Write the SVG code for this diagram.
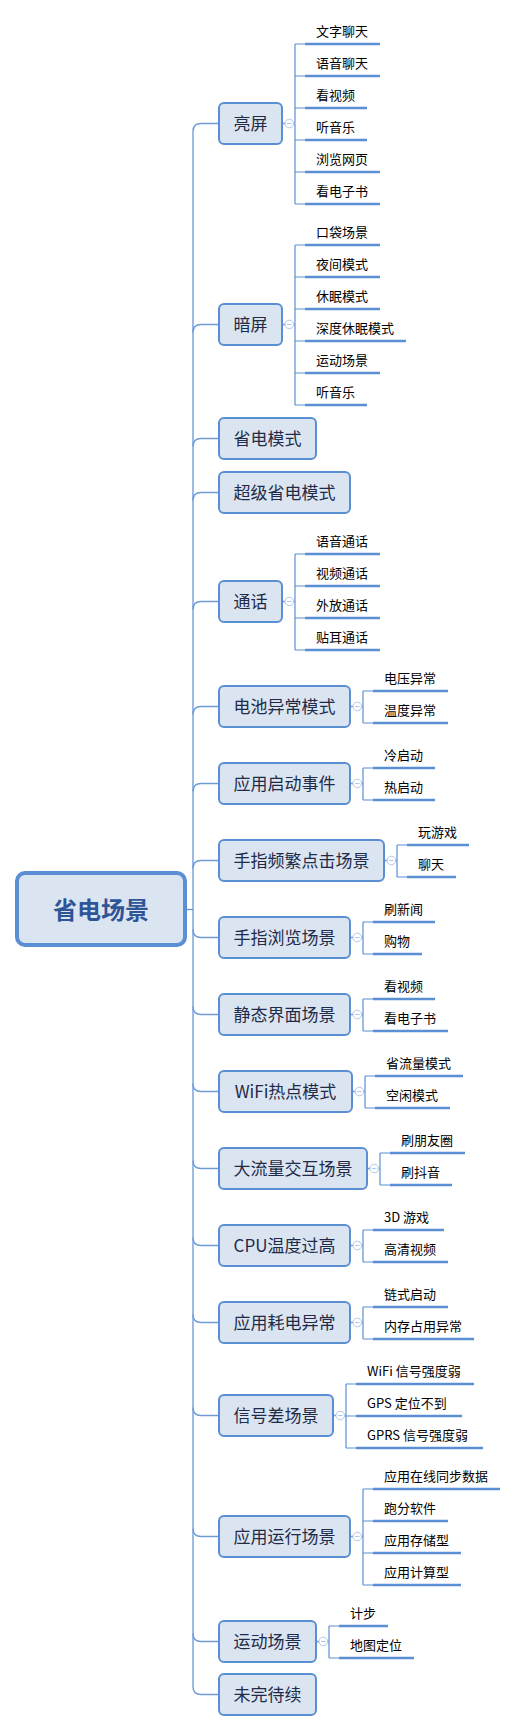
<svg xmlns="http://www.w3.org/2000/svg" width="518" height="1733" viewBox="0 0 518 1733">
<style>
text{font-family:"Noto Sans CJK SC","Microsoft YaHei",sans-serif}
.node rect{fill:#dbe5f1;stroke:#5b8fd4;stroke-width:2}
.node text{font-size:17px;fill:#1f2b48;text-anchor:middle}
.root rect{fill:#dbe5f1;stroke:#5b8fd4;stroke-width:4}
.root text{font-size:24px;font-weight:bold;fill:#2f5597;text-anchor:middle}
.leaf text{font-size:13px;fill:#000}
.leaf line{stroke:#5b8fd4;stroke-width:2.4}
.conn path,.conn line{fill:none;stroke:#5b8fd4;stroke-width:1.2}
.conn .br{stroke:#6f9bd8;stroke-width:1.5}
.tg circle{fill:#fff;stroke:#b3c7ea;stroke-width:1}
.tg line{stroke:#b3c7ea;stroke-width:1}
</style>
<g class="conn" id="connectors">
<path d="M186,909.5H193"/>
<path d="M193,131.5V1686.5"/>
<path class="br" d="M193,131.5Q193,123.5 201,123.5H219"/>
<path class="br" d="M193,332.5Q193,324.5 201,324.5H219"/>
<path class="br" d="M193,446.5Q193,438.5 201,438.5H219"/>
<path class="br" d="M193,500.5Q193,492.5 201,492.5H219"/>
<path class="br" d="M193,609.5Q193,601.5 201,601.5H219"/>
<path class="br" d="M193,714.5Q193,706.5 201,706.5H219"/>
<path class="br" d="M193,791.5Q193,783.5 201,783.5H219"/>
<path class="br" d="M193,868.5Q193,860.5 201,860.5H219"/>
<path class="br" d="M193,929.5Q193,937.5 201,937.5H219"/>
<path class="br" d="M193,1006.5Q193,1014.5 201,1014.5H219"/>
<path class="br" d="M193,1083.5Q193,1091.5 201,1091.5H219"/>
<path class="br" d="M193,1160.5Q193,1168.5 201,1168.5H219"/>
<path class="br" d="M193,1237.5Q193,1245.5 201,1245.5H219"/>
<path class="br" d="M193,1314.5Q193,1322.5 201,1322.5H219"/>
<path class="br" d="M193,1407.5Q193,1415.5 201,1415.5H219"/>
<path class="br" d="M193,1528.5Q193,1536.5 201,1536.5H219"/>
<path class="br" d="M193,1633.5Q193,1641.5 201,1641.5H219"/>
<path class="br" d="M193,1686.5Q193,1694.5 201,1694.5H219"/>
<!-- child connectors -->
<path d="M295,123.5V44M295,124V204M295,44H305M295,76H305M295,108H305M295,140H305M295,172H305M295,204H305"/>
<path d="M295,245V405M295,245H305M295,277H305M295,309H305M295,341H305M295,373H305M295,405H305"/>
<path d="M295,554V650M295,554H305M295,586H305M295,618H305M295,650H305"/>
<path d="M363,691V723M363,691H373M363,723H373"/>
<path d="M363,768V800M363,768H373M363,800H373"/>
<path d="M397,845V877M397,845H407M397,877H407"/>
<path d="M363,922V954M363,922H373M363,954H373"/>
<path d="M363,999V1031M363,999H373M363,1031H373"/>
<path d="M365,1076V1108M365,1076H375M365,1108H375"/>
<path d="M380,1153V1185M380,1153H390M380,1185H390"/>
<path d="M363,1230V1262M363,1230H373M363,1262H373"/>
<path d="M363,1307V1339M363,1307H373M363,1339H373"/>
<path d="M346,1384V1448M346,1384H356M346,1416H356M346,1448H356"/>
<path d="M363,1489V1585M363,1489H373M363,1521H373M363,1553H373M363,1585H373"/>
<path d="M329,1626V1658M329,1626H339M329,1658H339"/>
<!-- stubs node -> toggle -> vertical -->
<path class="br" d="M282,123.5H285M293.5,123.5H295"/>
<path class="br" d="M282,324.5H285M293.5,324.5H295"/>
<path class="br" d="M282,601.5H285M293.5,601.5H295"/>
<path class="br" d="M350,706.5H353M361.5,706.5H363"/>
<path class="br" d="M350,783.5H353M361.5,783.5H363"/>
<path class="br" d="M384,860.5H387M395.5,860.5H397"/>
<path class="br" d="M350,937.5H353M361.5,937.5H363"/>
<path class="br" d="M350,1014.5H353M361.5,1014.5H363"/>
<path class="br" d="M352,1091.5H355M363.5,1091.5H365"/>
<path class="br" d="M367,1168.5H370M378.5,1168.5H380"/>
<path class="br" d="M350,1245.5H353M361.5,1245.5H363"/>
<path class="br" d="M350,1322.5H353M361.5,1322.5H363"/>
<path class="br" d="M333,1415.5H336M344.5,1415.5H346"/>
<path class="br" d="M350,1536.5H353M361.5,1536.5H363"/>
<path class="br" d="M316,1641.5H319M327.5,1641.5H329"/>
</g>
<g class="tg" id="toggles">
<circle cx="289.3" cy="123.5" r="4.3"/><line x1="287" y1="123.5" x2="291.6" y2="123.5"/>
<circle cx="289.3" cy="324.5" r="4.3"/><line x1="287" y1="324.5" x2="291.6" y2="324.5"/>
<circle cx="289.3" cy="601.5" r="4.3"/><line x1="287" y1="601.5" x2="291.6" y2="601.5"/>
<circle cx="357.3" cy="706.5" r="4.3"/><line x1="355" y1="706.5" x2="359.6" y2="706.5"/>
<circle cx="357.3" cy="783.5" r="4.3"/><line x1="355" y1="783.5" x2="359.6" y2="783.5"/>
<circle cx="391.3" cy="860.5" r="4.3"/><line x1="389" y1="860.5" x2="393.6" y2="860.5"/>
<circle cx="357.3" cy="937.5" r="4.3"/><line x1="355" y1="937.5" x2="359.6" y2="937.5"/>
<circle cx="357.3" cy="1014.5" r="4.3"/><line x1="355" y1="1014.5" x2="359.6" y2="1014.5"/>
<circle cx="359.3" cy="1091.5" r="4.3"/><line x1="357" y1="1091.5" x2="361.6" y2="1091.5"/>
<circle cx="374.3" cy="1168.5" r="4.3"/><line x1="372" y1="1168.5" x2="376.6" y2="1168.5"/>
<circle cx="357.3" cy="1245.5" r="4.3"/><line x1="355" y1="1245.5" x2="359.6" y2="1245.5"/>
<circle cx="357.3" cy="1322.5" r="4.3"/><line x1="355" y1="1322.5" x2="359.6" y2="1322.5"/>
<circle cx="340.3" cy="1415.5" r="4.3"/><line x1="338" y1="1415.5" x2="342.6" y2="1415.5"/>
<circle cx="357.3" cy="1536.5" r="4.3"/><line x1="355" y1="1536.5" x2="359.6" y2="1536.5"/>
<circle cx="323.3" cy="1641.5" r="4.3"/><line x1="321" y1="1641.5" x2="325.6" y2="1641.5"/>
</g>
<g class="root" id="root"><rect x="17" y="873" width="168" height="72" rx="8"/><text x="101" y="918.5">省电场景</text></g>
<g class="node" id="n1"><rect x="219" y="103" width="63" height="41" rx="5"/><text x="250.5" y="129.5">亮屏</text></g>
<g class="node" id="n2"><rect x="219" y="304" width="63" height="41" rx="5"/><text x="250.5" y="330.5">暗屏</text></g>
<g class="node" id="n3"><rect x="219" y="418" width="97" height="41" rx="5"/><text x="267.5" y="444.5">省电模式</text></g>
<g class="node" id="n4"><rect x="219" y="472" width="131" height="41" rx="5"/><text x="284.5" y="498.5">超级省电模式</text></g>
<g class="node" id="n5"><rect x="219" y="581" width="63" height="41" rx="5"/><text x="250.5" y="607.5">通话</text></g>
<g class="node" id="n6"><rect x="219" y="686" width="131" height="41" rx="5"/><text x="284.5" y="712.5">电池异常模式</text></g>
<g class="node" id="n7"><rect x="219" y="763" width="131" height="41" rx="5"/><text x="284.5" y="789.5">应用启动事件</text></g>
<g class="node" id="n8"><rect x="219" y="840" width="165" height="41" rx="5"/><text x="301.5" y="866.5">手指频繁点击场景</text></g>
<g class="node" id="n9"><rect x="219" y="917" width="131" height="41" rx="5"/><text x="284.5" y="943.5">手指浏览场景</text></g>
<g class="node" id="n10"><rect x="219" y="994" width="131" height="41" rx="5"/><text x="284.5" y="1020.5">静态界面场景</text></g>
<g class="node" id="n11"><rect x="219" y="1071" width="133" height="41" rx="5"/><text x="285.5" y="1097.5">WiFi热点模式</text></g>
<g class="node" id="n12"><rect x="219" y="1148" width="148" height="41" rx="5"/><text x="293" y="1174.5">大流量交互场景</text></g>
<g class="node" id="n13"><rect x="219" y="1225" width="131" height="41" rx="5"/><text x="284.5" y="1251.5">CPU温度过高</text></g>
<g class="node" id="n14"><rect x="219" y="1302" width="131" height="41" rx="5"/><text x="284.5" y="1328.5">应用耗电异常</text></g>
<g class="node" id="n15"><rect x="219" y="1395" width="114" height="41" rx="5"/><text x="276" y="1421.5">信号差场景</text></g>
<g class="node" id="n16"><rect x="219" y="1516" width="131" height="41" rx="5"/><text x="284.5" y="1542.5">应用运行场景</text></g>
<g class="node" id="n17"><rect x="219" y="1621" width="97" height="41" rx="5"/><text x="267.5" y="1647.5">运动场景</text></g>
<g class="node" id="n18"><rect x="219" y="1674" width="97" height="41" rx="5"/><text x="267.5" y="1700.5">未完待续</text></g>
<!-- leaves -->
<g class="leaf" id="l1a"><text x="316" y="36">文字聊天</text><line x1="305" y1="44" x2="380" y2="44"/></g>
<g class="leaf" id="l1b"><text x="316" y="68">语音聊天</text><line x1="305" y1="76" x2="380" y2="76"/></g>
<g class="leaf" id="l1c"><text x="316" y="100">看视频</text><line x1="305" y1="108" x2="367" y2="108"/></g>
<g class="leaf" id="l1d"><text x="316" y="132">听音乐</text><line x1="305" y1="140" x2="367" y2="140"/></g>
<g class="leaf" id="l1e"><text x="316" y="164">浏览网页</text><line x1="305" y1="172" x2="380" y2="172"/></g>
<g class="leaf" id="l1f"><text x="316" y="196">看电子书</text><line x1="305" y1="204" x2="380" y2="204"/></g>
<g class="leaf" id="l2a"><text x="316" y="237">口袋场景</text><line x1="305" y1="245" x2="380" y2="245"/></g>
<g class="leaf" id="l2b"><text x="316" y="269">夜间模式</text><line x1="305" y1="277" x2="380" y2="277"/></g>
<g class="leaf" id="l2c"><text x="316" y="301">休眠模式</text><line x1="305" y1="309" x2="380" y2="309"/></g>
<g class="leaf" id="l2d"><text x="316" y="333">深度休眠模式</text><line x1="305" y1="341" x2="406" y2="341"/></g>
<g class="leaf" id="l2e"><text x="316" y="365">运动场景</text><line x1="305" y1="373" x2="380" y2="373"/></g>
<g class="leaf" id="l2f"><text x="316" y="397">听音乐</text><line x1="305" y1="405" x2="367" y2="405"/></g>
<g class="leaf" id="l5a"><text x="316" y="546">语音通话</text><line x1="305" y1="554" x2="380" y2="554"/></g>
<g class="leaf" id="l5b"><text x="316" y="578">视频通话</text><line x1="305" y1="586" x2="380" y2="586"/></g>
<g class="leaf" id="l5c"><text x="316" y="610">外放通话</text><line x1="305" y1="618" x2="380" y2="618"/></g>
<g class="leaf" id="l5d"><text x="316" y="642">贴耳通话</text><line x1="305" y1="650" x2="380" y2="650"/></g>
<g class="leaf" id="l6a"><text x="384" y="683">电压异常</text><line x1="373" y1="691" x2="448" y2="691"/></g>
<g class="leaf" id="l6b"><text x="384" y="715">温度异常</text><line x1="373" y1="723" x2="448" y2="723"/></g>
<g class="leaf" id="l7a"><text x="384" y="760">冷启动</text><line x1="373" y1="768" x2="435" y2="768"/></g>
<g class="leaf" id="l7b"><text x="384" y="792">热启动</text><line x1="373" y1="800" x2="435" y2="800"/></g>
<g class="leaf" id="l8a"><text x="418" y="837">玩游戏</text><line x1="407" y1="845" x2="469" y2="845"/></g>
<g class="leaf" id="l8b"><text x="418" y="869">聊天</text><line x1="407" y1="877" x2="456" y2="877"/></g>
<g class="leaf" id="l9a"><text x="384" y="914">刷新闻</text><line x1="373" y1="922" x2="435" y2="922"/></g>
<g class="leaf" id="l9b"><text x="384" y="946">购物</text><line x1="373" y1="954" x2="422" y2="954"/></g>
<g class="leaf" id="l10a"><text x="384" y="991">看视频</text><line x1="373" y1="999" x2="435" y2="999"/></g>
<g class="leaf" id="l10b"><text x="384" y="1023">看电子书</text><line x1="373" y1="1031" x2="448" y2="1031"/></g>
<g class="leaf" id="l11a"><text x="386" y="1068">省流量模式</text><line x1="375" y1="1076" x2="463" y2="1076"/></g>
<g class="leaf" id="l11b"><text x="386" y="1100">空闲模式</text><line x1="375" y1="1108" x2="450" y2="1108"/></g>
<g class="leaf" id="l12a"><text x="401" y="1145">刷朋友圈</text><line x1="390" y1="1153" x2="465" y2="1153"/></g>
<g class="leaf" id="l12b"><text x="401" y="1177">刷抖音</text><line x1="390" y1="1185" x2="452" y2="1185"/></g>
<g class="leaf" id="l13a"><text x="384" y="1222">3D 游戏</text><line x1="373" y1="1230" x2="444" y2="1230"/></g>
<g class="leaf" id="l13b"><text x="384" y="1254">高清视频</text><line x1="373" y1="1262" x2="448" y2="1262"/></g>
<g class="leaf" id="l14a"><text x="384" y="1299">链式启动</text><line x1="373" y1="1307" x2="448" y2="1307"/></g>
<g class="leaf" id="l14b"><text x="384" y="1331">内存占用异常</text><line x1="373" y1="1339" x2="474" y2="1339"/></g>
<g class="leaf" id="l15a"><text x="367" y="1376">WiFi 信号强度弱</text><line x1="356" y1="1384" x2="474" y2="1384"/></g>
<g class="leaf" id="l15b"><text x="367" y="1408">GPS 定位不到</text><line x1="356" y1="1416" x2="462" y2="1416"/></g>
<g class="leaf" id="l15c"><text x="367" y="1440">GPRS 信号强度弱</text><line x1="356" y1="1448" x2="483" y2="1448"/></g>
<g class="leaf" id="l16a"><text x="384" y="1481">应用在线同步数据</text><line x1="373" y1="1489" x2="500" y2="1489"/></g>
<g class="leaf" id="l16b"><text x="384" y="1513">跑分软件</text><line x1="373" y1="1521" x2="448" y2="1521"/></g>
<g class="leaf" id="l16c"><text x="384" y="1545">应用存储型</text><line x1="373" y1="1553" x2="461" y2="1553"/></g>
<g class="leaf" id="l16d"><text x="384" y="1577">应用计算型</text><line x1="373" y1="1585" x2="461" y2="1585"/></g>
<g class="leaf" id="l17a"><text x="350" y="1618">计步</text><line x1="339" y1="1626" x2="388" y2="1626"/></g>
<g class="leaf" id="l17b"><text x="350" y="1650">地图定位</text><line x1="339" y1="1658" x2="414" y2="1658"/></g>
</svg>
